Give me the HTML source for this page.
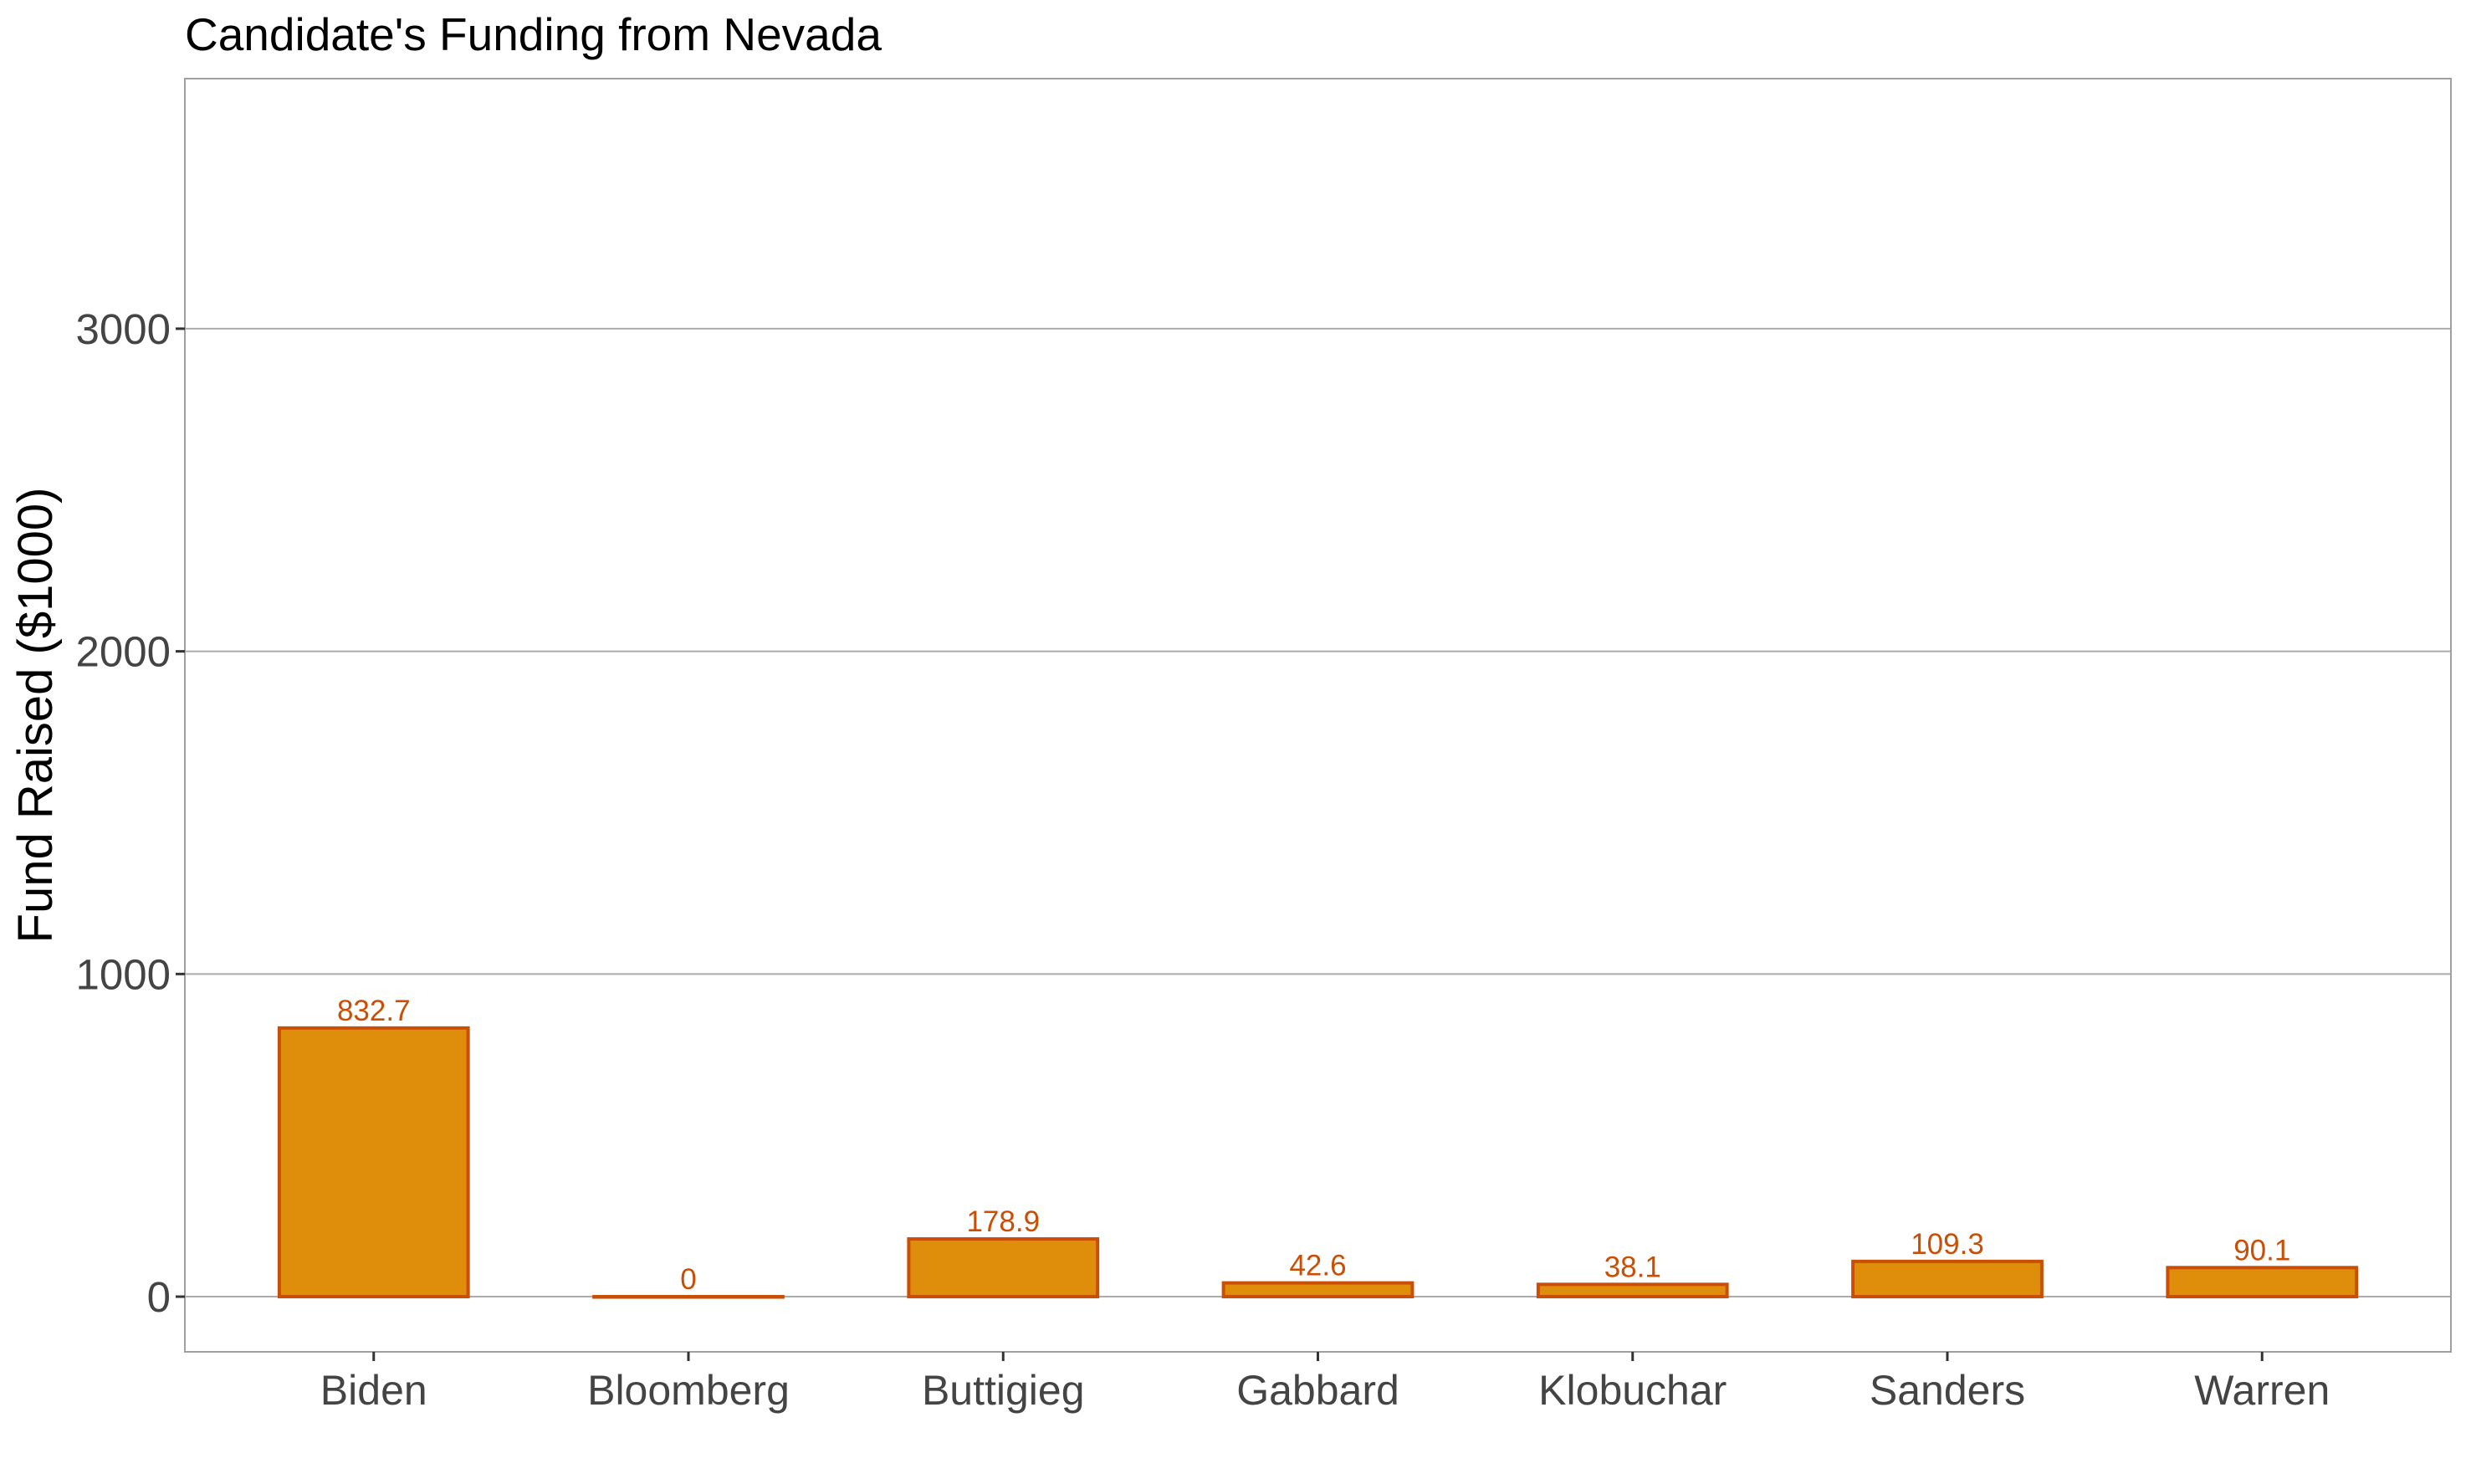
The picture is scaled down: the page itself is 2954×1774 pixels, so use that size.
<!DOCTYPE html>
<html><head><meta charset="utf-8"><style>
html,body{margin:0;padding:0;background:#fff;}
svg{display:block;font-family:"Liberation Sans",Arial,sans-serif;}
</style></head><body>
<svg id="chart" width="2954" height="1774" viewBox="0 0 2954 1774" xmlns="http://www.w3.org/2000/svg">
<rect width="2954" height="1774" fill="#fff"/>
<text x="221" y="60" font-size="55" fill="#000">Candidate's Funding from Nevada</text>
<text transform="translate(62,855) rotate(-90)" text-anchor="middle" font-size="58" fill="#000">Fund Raised ($1000)</text>
<g id="grid"></g>
<g id="bars"></g>
<rect x="221" y="94" width="2709" height="1522" fill="none" stroke="#a0a0a0" stroke-width="2"/>
<g id="axes"></g>
</svg>
<script>
const categories = ["Biden","Bloomberg","Buttigieg","Gabbard","Klobuchar","Sanders","Warren"];
const values = [832.7, 0, 178.9, 42.6, 38.1, 109.3, 90.1];
const valueLabels = ["832.7","0","178.9","42.6","38.1","109.3","90.1"];
const yTicks = [0, 1000, 2000, 3000];

const NS = "http://www.w3.org/2000/svg";
const panel = {left:221, right:2930, top:94, bottom:1616};
const yMin = -171, yMax = 3775;
function y(v){ return panel.bottom - (v - yMin) / (yMax - yMin) * (panel.bottom - panel.top); }
const xMin = 0.4, xMax = categories.length + 0.6;
function x(i){ return panel.left + ((i + 1) - xMin) / (xMax - xMin) * (panel.right - panel.left); }
const band = (panel.right - panel.left) / (xMax - xMin);
function mk(tag, attrs, parent){ const e = document.createElementNS(NS, tag); for (const k in attrs) e.setAttribute(k, attrs[k]); parent.appendChild(e); return e; }

const grid = document.getElementById("grid");
const axes = document.getElementById("axes");
const bars = document.getElementById("bars");

yTicks.forEach(t => {
  const g = mk("line", {x1:panel.left, x2:panel.right, y1:y(t), y2:y(t), stroke:"#ababab", "stroke-width":2}, grid);
  
  
  const tk = mk("line", {x1:panel.left-11, x2:panel.left, y1:y(t), y2:y(t), stroke:"#333", "stroke-width":3}, axes);
  
  
  const lb = mk("text", {x:panel.left-17, y:y(t)+18, "text-anchor":"end", "font-size":51, fill:"#444"}, axes);
  lb.textContent = String(t);
  
  
});

categories.forEach((c, i) => {
  const cx = x(i), w = band * 0.6;
  const top = y(values[i]), base = y(0);
  const r = mk("rect", {x:cx - w/2, y:top, width:w, height:Math.max(base - top, 0.5), fill:"#df8e0b", stroke:"#c94f06", "stroke-width":4}, bars);
  
  
  const vl = mk("text", {x:cx, y:top - 9, "text-anchor":"middle", "font-size":35, fill:"#c94f06"}, bars);
  vl.textContent = valueLabels[i];
  
  
  const tk = mk("line", {x1:cx, x2:cx, y1:panel.bottom, y2:panel.bottom+11, stroke:"#333", "stroke-width":3}, axes);
  
  
  const lb = mk("text", {x:cx, y:1679, "text-anchor":"middle", "font-size":50, fill:"#444"}, axes);
  lb.textContent = c;
  
  
});
</script>
</body></html>
